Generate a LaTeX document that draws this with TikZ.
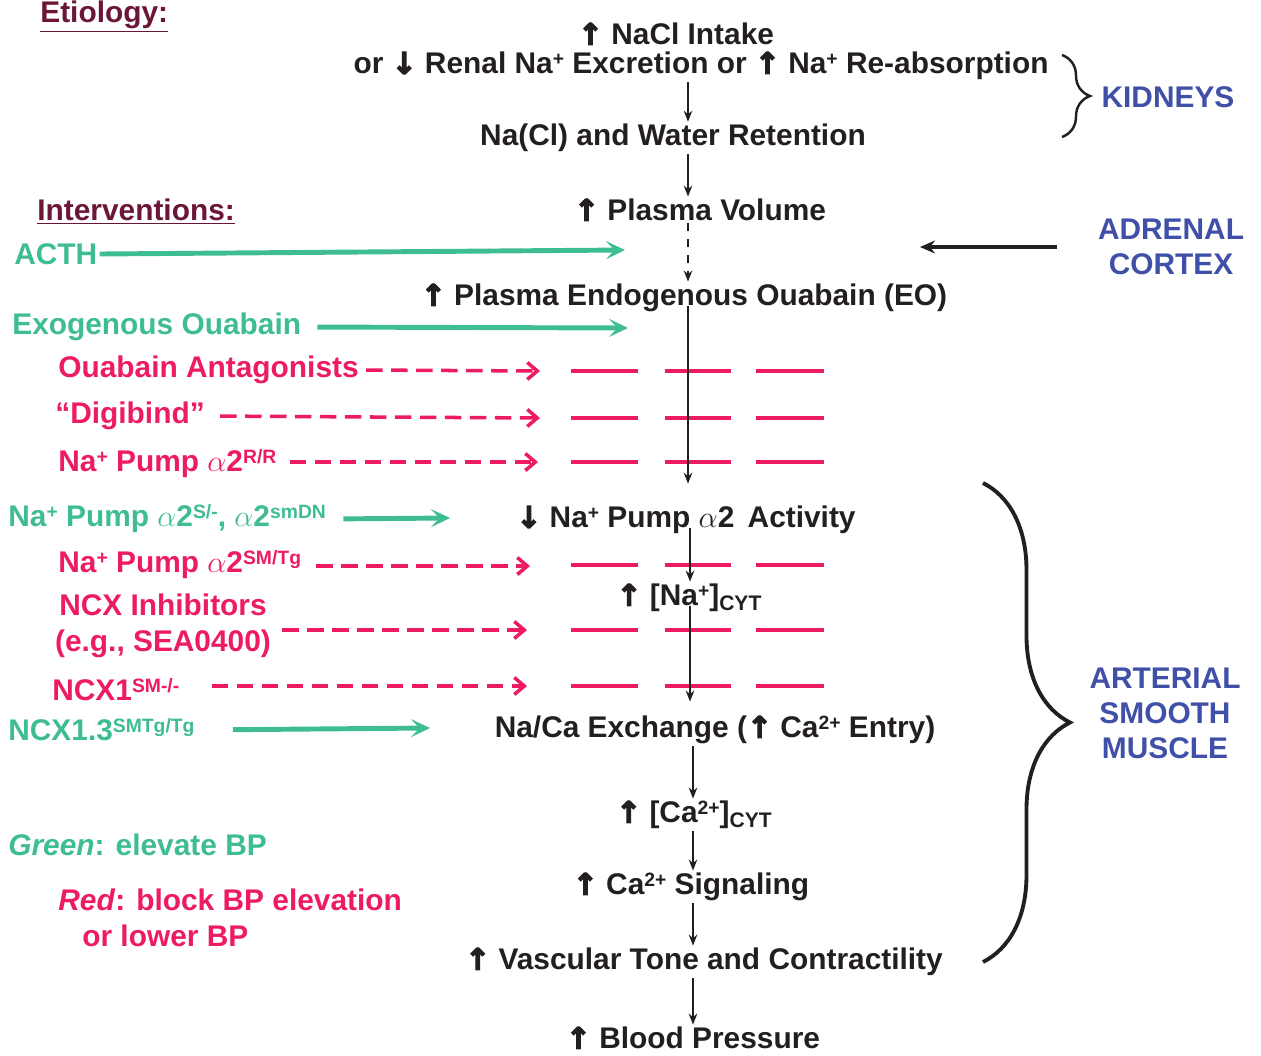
\documentclass[tikz,border=0pt]{standalone}
\usepackage{fontspec}
\setmainfont{Liberation Sans}
\newfontfamily\arrowfont[FakeBold=4]{DejaVu Sans}
\usepackage{tikz}
\usetikzlibrary{arrows.meta,decorations.pathreplacing}
\definecolor{inkblack}{HTML}{231F20}
\definecolor{ivgreen}{HTML}{3FBD92}
\definecolor{ivred}{HTML}{EC1B63}
\definecolor{organblue}{HTML}{4050A8}
\definecolor{headmaroon}{HTML}{6B1638}
\newcommand{\upar}{{\arrowfont\bfseries ↑}}
\newcommand{\dnar}{{\arrowfont\bfseries ↓}}
\newcommand{\sups}[1]{\raisebox{4.6pt}{\fontsize{11}{11}\selectfont #1}}
\newcommand{\subs}[1]{\raisebox{-2.6pt}{\fontsize{12}{12}\selectfont #1}}
\newcommand{\Nap}{Na\sups{+}}
\newcommand{\Cap}{Ca\sups{2+}}
\tikzstyle{stage} = [text=inkblack, font=\bfseries\fontsize{17}{20}\selectfont, inner sep=0.04cm]
\tikzstyle{raiser} = [text=ivgreen, font=\bfseries\fontsize{17}{20.5}\selectfont, inner sep=0.04cm, anchor=west]
\tikzstyle{blocker} = [text=ivred, font=\bfseries\fontsize{17}{20.5}\selectfont, inner sep=0.04cm, anchor=west]
\tikzstyle{organ} = [text=organblue, font=\bfseries\fontsize{17}{20}\selectfont, align=center]
\tikzstyle{heading} = [text=headmaroon, font=\bfseries\fontsize{17}{20}\selectfont, anchor=west, inner sep=0.04cm]
\tikzstyle{link} = [draw=inkblack, line width=1.1pt, -{Stealth[length=0.22cm,width=0.17cm]}]
\tikzstyle{elevate} = [draw=ivgreen, line width=2.8pt, -{Stealth[length=0.38cm,width=0.36cm,inset=0.17cm]}]
\tikzstyle{lower} = [draw=ivred, line width=2pt, dash pattern=on 0.33cm off 0.17cm, -{Straight Barb[length=0.2cm,width=0.34cm]}]
\tikzstyle{block} = [draw=ivred, line width=2.3pt]

\begin{document}
\begin{tikzpicture}[x=0.02cm,y=-0.02cm]
	\useasboundingbox (0,0) rectangle (1261,1055);
	\coordinate (axisA) at (688,0);
	\coordinate (axisB) at (690,0);
	\coordinate (axisC) at (693,0);

	\node[heading] (etiology) at (38,17) {\underline{Etiology:}};
	\node[heading] (interv) at (35,212) {\underline{Interventions:}};

	\node[stage] (intake) at (676,34) {\upar{} NaCl Intake};
	\node[stage] (renal) at (701,66) {or \dnar{} Renal \Nap{} Excretion or \upar{} \Nap{} Re-absorption};
	\node[stage] (retention) at (673,138) {Na(Cl) and Water Retention};
	\node[stage] (volume) at (700,210) {\upar{} Plasma Volume};
	\node[stage] (eo) at (684,298) {\upar{} Plasma Endogenous Ouabain (EO)};
	\node[stage] (activity) at (686,520) {\dnar{} \Nap{} Pump $\alpha$2\, Activity};
	\node[stage] (nacyt) at (689,598) {\upar{} [Na\sups{+}]\subs{CYT}};
	\node[stage] (exchange) at (715,730) {Na/Ca Exchange (\upar{} \Cap{} Entry)};
	\node[stage] (cacyt) at (694,815) {\upar{} [Ca\sups{2+}]\subs{CYT}};
	\node[stage] (signal) at (691,887) {\upar{} \Cap{} Signaling};
	\node[stage] (tone) at (704,962) {\upar{} Vascular Tone and Contractility};
	\node[stage] (bp) at (693,1038) {\upar{} Blood Pressure};

	\node[organ] (kidneys) at (1168,97) {KIDNEYS};
	\node[organ] (adrenal) at (1171,247) {ADRENAL\\CORTEX};
	\node[organ] (muscle) at (1165,713) {ARTERIAL\\SMOOTH\\MUSCLE};

	\node[raiser] (acth) at (12,254) {ACTH};
	\node[raiser] (exo) at (10,327) {Exogenous Ouabain};
	\node[blocker] (antag) at (56,370) {Ouabain Antagonists};
	\node[blocker] (digi) at (53,416) {“Digibind”};
	\node[blocker] (rr) at (56,464) {\Nap{} Pump $\alpha$2\sups{R/R}};
	\node[raiser] (sdn) at (6,519) {\Nap{} Pump $\alpha$2\sups{S/-}, $\alpha$2\sups{smDN}};
	\node[blocker] (smtg) at (56,565) {\Nap{} Pump $\alpha$2\sups{SM/Tg}};
	\node[blocker, anchor=center, align=center] (ncxinh) at (163,626) {NCX Inhibitors\\(e.g., SEA0400)};
	\node[blocker] (ncxko) at (50,690) {NCX1\sups{SM-/-}};
	\node[raiser] (ncxtg) at (6,730) {NCX1.3\sups{SMTg/Tg}};
	\node[raiser] (greenkey) at (6,845) {\textit{Green}: elevate BP};
	\node[blocker, align=left] (redkey) at (56,918) {\textit{Red}: block BP elevation\\\hspace*{0.48cm}or lower BP};

	\coordinate (acthhead) at (625,250);
	\coordinate (exohead) at (628,328);
	\coordinate (adrhead) at (920,247);
	\coordinate (antaghead) at (540,371);
	\coordinate (digihead) at (540,418);
	\coordinate (rrhead) at (538,462);
	\coordinate (sdnhead) at (450,518);
	\coordinate (smtghead) at (530,566);
	\coordinate (ncxinhhead) at (527,630);
	\coordinate (ncxkohead) at (527,686);
	\coordinate (ncxtghead) at (430,728);

	\foreach \y in {371,418,462,565,630,686}
		\foreach \a/\b in {571/638,665/731,756/824}
			\draw[block] (\a,\y) -- (\b,\y);

	\draw[link] (renal.south -| axisA) -- (retention.north -| axisA);
	\draw[link] (retention.south -| axisA) -- (volume.north -| axisA);
	\draw[link, dash pattern=on 0.16cm off 0.16cm] (volume.south -| axisA) -- (eo.north -| axisA);
	\draw[link] (eo.base -| axisA) -- ([yshift=0.4cm]activity.north -| axisA);
	\draw[link] (activity.base -| axisB) -- (nacyt.north -| axisB);
	\draw[link] (nacyt.base -| axisB) -- ([yshift=0.24cm]exchange.north -| axisB);
	\draw[link] (exchange.south -| axisC) -- (cacyt.north -| axisC);
	\draw[link] (cacyt.south -| axisC) -- (signal.north -| axisC);
	\draw[link] (signal.south -| axisC) -- (tone.north -| axisC);
	\draw[link] (tone.south -| axisC) -- (bp.north -| axisC);

	\draw[draw=inkblack, line width=2.4pt, shorten <=0.7cm, -{Stealth[length=0.3cm,width=0.26cm,inset=0.1cm]}] (adrenal.west) -- (adrhead);

	\draw[elevate] (acth.east) -- (acthhead);
	\draw[elevate, shorten <=0.28cm] (exo.east) -- (exohead);
	\draw[elevate, shorten <=0.3cm] (sdn.east) -- (sdnhead);
	\draw[elevate, shorten <=0.72cm] (ncxtg.east) -- (ncxtghead);
	\draw[lower, shorten <=0.1cm] (antag.east) -- (antaghead);
	\draw[lower, shorten <=0.26cm] (digi.east) -- (digihead);
	\draw[lower, shorten <=0.22cm] (rr.east |- rrhead) -- (rrhead);
	\draw[lower, shorten <=0.26cm] (smtg.east |- smtghead) -- (smtghead);
	\draw[lower, shorten <=0.18cm] (ncxinh.east |- ncxinhhead) -- (ncxinhhead);
	\draw[lower, shorten <=0.6cm] (ncxko.east |- ncxkohead) -- (ncxkohead);

	\draw[inkblack, line width=1.4pt, decorate, decoration={brace, amplitude=0.56cm}] (1062,55) -- (1062,137);
	\draw[inkblack, line width=2.2pt, decorate, decoration={brace, amplitude=1.74cm}] (983,483) -- (983,962);
\end{tikzpicture}
\end{document}
